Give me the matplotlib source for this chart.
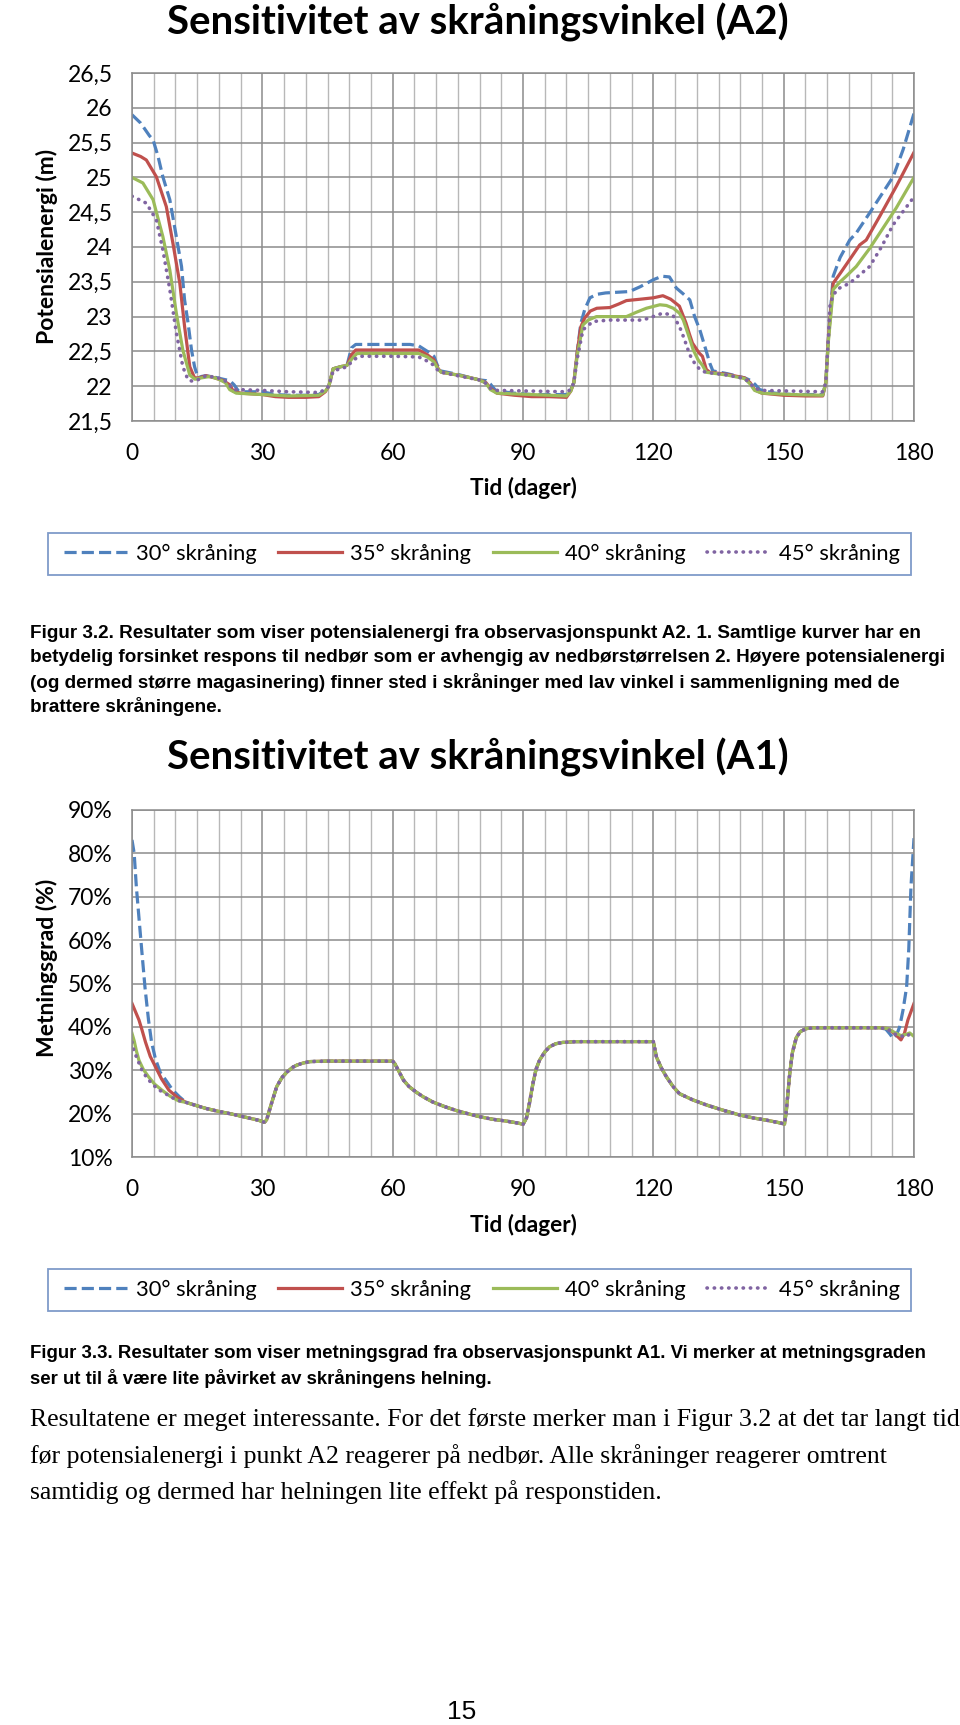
import numpy as np
import matplotlib
matplotlib.use('Agg')
import matplotlib.pyplot as plt
from matplotlib import font_manager
from matplotlib.patches import Rectangle

# A2: potensialenergi (m), dag -> verdi for hver skråningsvinkel
a2_dag_30 = [0, 2, 4, 4.85, 6, 7.1, 8.7, 10.2, 11.4, 12.1, 12.9, 13.7, 14.4, 15.2, 16, 17, 19, 21, 22.5, 23.5,
             24.5, 26, 30, 33, 36, 40, 43, 44.5, 45.3, 46.3, 48, 49.5, 50.5, 51.5, 60, 64, 66, 68, 69.5, 70.3,
             71, 75, 78, 80, 81.5, 82.5, 83.8, 88, 92, 96, 100, 101, 101.7, 102.5, 103.3, 104.2, 105.4, 107,
             109, 114.5, 117, 120, 122, 123.7, 125.3, 127, 128.4, 129.5, 130.7, 132.2, 133, 133.7, 137, 141,
             142.5, 143.5, 144.5, 148, 152, 156, 159, 159.7, 160.3, 161.4, 163, 165.2, 166.7, 169.8, 172.5,
             175.2, 177.5, 180]
a2_30 = [25.9, 25.78, 25.6, 25.54, 25.3, 25.01, 24.68, 24.15, 23.72, 23.24, 22.91, 22.52, 22.28, 22.12, 22.14,
         22.15, 22.13, 22.1, 22.08, 22.02, 21.93, 21.92, 21.92, 21.88, 21.87, 21.87, 21.88, 21.95, 22.0, 22.25,
         22.28, 22.3, 22.55, 22.6, 22.6, 22.6, 22.58, 22.5, 22.43, 22.3, 22.22, 22.17, 22.12, 22.09, 22.08,
         22.03, 21.93, 21.9, 21.88, 21.88, 21.88, 21.95, 22.05, 22.5, 22.9, 23.1, 23.27, 23.32, 23.34, 23.36,
         23.43, 23.53, 23.58, 23.57, 23.41, 23.32, 23.24, 23.0, 22.81, 22.5, 22.33, 22.22, 22.18, 22.12, 22.08,
         22.02, 21.95, 21.9, 21.88, 21.88, 21.88, 22.05, 22.7, 23.58, 23.85, 24.1, 24.2, 24.49, 24.75, 25.01,
         25.4, 25.92]

a2_dag_35 = [0, 2, 3.3, 5.6, 7.9, 9.4, 11, 12.1, 13.3, 14.4, 15.5, 17, 19, 21, 22.5, 23.3, 25, 30, 33, 36, 40,
             43, 44.5, 45.3, 46.3, 48, 49.5, 50.5, 51.5, 60, 66, 68, 69.5, 70.5, 71.2, 75, 78, 80, 81.5, 82.5,
             84, 88, 92, 96, 100, 101, 101.7, 102.5, 103.3, 104.2, 105.5, 107, 110, 112, 113.8, 117, 120, 122.2,
             124, 126, 127.5, 128.3, 129, 130.5, 131.3, 132.2, 133, 137, 141, 142.3, 143.3, 145, 150, 155, 159,
             159.7, 160.3, 161.4, 163, 165.2, 167.5, 169, 172.1, 176, 180]
a2_35 = [25.35, 25.3, 25.25, 25.01, 24.58, 24.06, 23.48, 22.86, 22.28, 22.12, 22.12, 22.15, 22.12, 22.08, 22.02,
         21.93, 21.9, 21.88, 21.85, 21.84, 21.84, 21.85, 21.92, 22.0, 22.25, 22.28, 22.3, 22.45, 22.52, 22.52,
         22.52, 22.45, 22.38, 22.25, 22.2, 22.16, 22.12, 22.09, 22.05, 21.97, 21.9, 21.87, 21.85, 21.85, 21.84,
         21.93, 22.05, 22.5, 22.85, 22.98, 23.08, 23.12, 23.13, 23.18, 23.23, 23.25, 23.27, 23.3, 23.25, 23.15,
         22.91, 22.75, 22.62, 22.48, 22.43, 22.24, 22.2, 22.17, 22.12, 22.05, 21.95, 21.9, 21.87, 21.86, 21.86,
         22.05, 22.7, 23.48, 23.62, 23.82, 24.03, 24.1, 24.44, 24.88, 25.36]

a2_dag_40 = [0, 2.5, 4.85, 7.1, 8.7, 10.2, 11.7, 13.3, 14.5, 16, 18, 20, 21.5, 22.5, 24, 30, 36, 43, 44.5, 45.3,
             46.3, 48, 49.5, 50.7, 51.8, 60, 66, 68, 69.5, 70.5, 71.2, 75, 78, 80, 81.5, 82.5, 84, 92, 100, 101,
             101.7, 102.5, 103.8, 105, 106.9, 110, 113.8, 116, 118.4, 121.5, 123, 124.6, 126, 126.9, 128, 129.2,
             130.3, 131.3, 132.2, 137, 141, 142.3, 143.3, 145, 152, 159, 159.7, 160.3, 161.4, 163, 164.4, 166.7,
             169.8, 175.9, 180]
a2_40 = [25.0, 24.92, 24.68, 24.15, 23.67, 23.05, 22.52, 22.16, 22.1, 22.12, 22.14, 22.1, 22.05, 21.95, 21.9,
         21.88, 21.86, 21.87, 21.93, 22.0, 22.25, 22.28, 22.3, 22.4, 22.47, 22.47, 22.47, 22.42, 22.35, 22.24,
         22.2, 22.16, 22.12, 22.09, 22.04, 21.95, 21.9, 21.88, 21.86, 21.93, 22.05, 22.45, 22.88, 22.95, 23.0,
         23.0, 23.0, 23.06, 23.12, 23.17, 23.16, 23.12, 23.05, 22.95, 22.75, 22.52, 22.38, 22.3, 22.2, 22.16,
         22.11, 22.03, 21.94, 21.9, 21.88, 21.87, 22.05, 22.65, 23.39, 23.5, 23.58, 23.72, 23.98, 24.56, 25.0]

a2_dag_45 = [0, 3.3, 5.6, 7.1, 8.7, 10.2, 11.7, 12.9, 14, 15.5, 17, 19, 21, 22.3, 23.3, 25, 30, 36, 43, 44.5,
             45.3, 46.3, 48, 49.5, 51, 52.5, 60, 66, 68, 69.5, 70.5, 71.2, 75, 80, 81.5, 82.5, 84, 92, 100, 101,
             101.7, 102.5, 103.8, 106.1, 110, 117.6, 119.9, 122.2, 124.5, 126, 127, 128.4, 129.5, 130.7, 132,
             137, 141, 142.3, 143.3, 145, 152, 159, 159.7, 160.3, 160.7, 162.2, 165.2, 169.8, 172.5, 175.2, 180]
a2_45 = [24.73, 24.63, 24.39, 23.96, 23.39, 22.77, 22.28, 22.09, 22.07, 22.1, 22.15, 22.13, 22.1, 22.03, 21.95,
         21.95, 21.94, 21.92, 21.91, 21.95, 22.0, 22.22, 22.25, 22.28, 22.38, 22.43, 22.43, 22.42, 22.36, 22.3,
         22.22, 22.2, 22.15, 22.09, 22.04, 21.97, 21.94, 21.93, 21.92, 21.95, 22.05, 22.4, 22.81, 22.93, 22.95,
         22.95, 23.0, 23.05, 23.02, 22.86, 22.7, 22.45, 22.33, 22.24, 22.2, 22.16, 22.11, 22.04, 21.97, 21.94,
         21.93, 21.92, 22.05, 22.7, 23.2, 23.39, 23.48, 23.72, 24.0, 24.32, 24.72]

# A1: metningsgrad (%), felles midtdel + egen start og slutt per vinkel
a1_dag_felles = [12.4, 15, 17, 20, 23, 26, 29, 30, 30.5, 31, 32, 33.3, 34.5, 35.7, 37, 38, 39.5, 41, 45, 60,
                 60.5, 61.5, 62.5, 63.8, 65.5, 67, 69.2, 72, 75, 78, 80, 83, 86, 89, 90, 90.8, 91.5, 92.3, 93,
                 93.8, 95, 96.1, 97.5, 99, 102, 120, 120.7, 121.8, 123, 124.5, 126, 129, 132.2, 136, 139.8, 143,
                 146, 149, 150.2, 150.6, 151.4, 152, 152.9, 153.8, 155.2, 157, 172]
a1_felles = [22.6, 21.8, 21.2, 20.5, 19.9, 19.2, 18.5, 18.2, 18.0, 18.6, 22.0, 26.2, 28.3, 29.6, 30.7, 31.2,
             31.7, 32.0, 32.1, 32.1, 31.5, 29.6, 27.7, 26.2, 24.9, 23.9, 22.7, 21.6, 20.6, 19.8, 19.3, 18.7,
             18.3, 17.8, 17.5, 19.0, 22.5, 27.0, 30.2, 32.3, 34.2, 35.4, 36.1, 36.4, 36.6, 36.6, 33.1, 30.6,
             28.5, 26.3, 24.6, 23.2, 22.0, 20.8, 19.7, 19.0, 18.5, 17.9, 17.6, 20.5, 29.3, 34.0, 37.5, 38.9,
             39.6, 39.8, 39.8]

a1_start_dag = {30: [0, 0.5, 1.0, 1.7, 2.3, 3.0, 3.8, 4.5, 5.4, 6.5, 7.8, 9.3, 10.9],
                35: [0, 0.8, 1.6, 2.3, 3.1, 4.2, 5.4, 6.8, 8.5, 10.5],
                40: [0, 0.5, 1.0, 1.6, 2.6, 3.8, 5.2, 6.9, 8.8, 10.8],
                45: [0, 0.3, 1.0, 2.3, 3.4, 4.6, 6.0, 7.7, 9.2, 10.8]}
a1_start = {30: [83.1, 80, 72.3, 64, 57, 49, 41.6, 36.5, 32.6, 29.5, 27.7, 25.5, 23.9],
            35: [45.4, 43.5, 41.6, 39.3, 36.5, 33.2, 30.8, 28.0, 25.4, 23.7],
            40: [38.5, 36.8, 34.5, 32.3, 30.2, 28.5, 26.8, 25.4, 24.0, 22.9],
            45: [36.5, 35.0, 33.1, 30.0, 28.3, 26.9, 25.6, 24.6, 23.7, 23.0]}
a1_slutt_dag = {30: [173.5, 174.5, 175.2, 176, 176.7, 177.5, 178.3, 178.8, 179.3, 180],
                35: [174, 175.5, 177, 177.8, 178.6, 180],
                40: [174, 175.9, 177, 178.3, 179, 180],
                45: [174, 175.2, 176.5, 178.3, 179.2, 180]}
a1_slutt = {30: [39.5, 38.3, 37.3, 38.2, 40.0, 44.0, 49.2, 58.0, 72.3, 83.5],
            35: [39.6, 38.5, 37.0, 38.5, 41.6, 45.4],
            40: [39.6, 38.5, 38.0, 38.3, 38.6, 37.8],
            45: [39.5, 38.5, 38.0, 37.7, 38.6, 38.4]}

vinkler = [30, 35, 40, 45]
navn = ['30° skråning', '35° skråning', '40° skråning', '45° skråning']
a2_ytekst = ['21,5', '22', '22,5', '23', '23,5', '24', '24,5', '25', '25,5', '26', '26,5']
a1_ytekst = ['10%', '20%', '30%', '40%', '50%', '60%', '70%', '80%', '90%']

farger = ['#4F81BD', '#C0504D', '#9BBB59', '#8064A2']
stiler = [(0, (3.8, 1.6)), '-', '-', (0, (0.1, 1.9))]

W, H = 960, 1725
plt.rcParams['font.family'] = ['Lato', 'DejaVu Sans']
fig = plt.figure(figsize=(W / 100, H / 100), dpi=100)


def fx(x):
    return x / W


def fy(y):
    return 1 - y / H


def aksestil(ax, y0, y1, ytekst):
    ax.set_xlim(0, 180)
    ax.set_ylim(y0, y1)
    ax.set_xticks(range(0, 181, 30))
    ax.set_xticks(range(0, 181, 5), minor=True)
    ax.set_yticks(np.linspace(y0, y1, len(ytekst)))
    ax.set_yticklabels(ytekst)
    ax.grid(which='minor', axis='x', color='#b8b8b8', lw=1.0)
    ax.grid(which='major', color='#8c8c8c', lw=1.1)
    ax.tick_params(which='both', length=0, labelsize=16.5, pad=14)
    ax.tick_params(axis='x', pad=16)
    for s in ax.spines.values():
        s.set_color('#8c8c8c')
        s.set_linewidth(1.1)
    ax.set_axisbelow(True)


def linje(ax, x, y, i):
    lw = 2.6 if i == 3 else 2.3
    return ax.plot(x, y, color=farger[i], ls=stiler[i], lw=lw, dash_capstyle='round' if i == 3 else 'butt',
                   label=navn[i])[0]


renderer = fig.canvas.get_renderer()


def tilpass(t, bredde):
    bb = t.get_window_extent(renderer)
    t.set_fontsize(t.get_fontsize() * bredde / bb.width)
    return t.get_fontsize()


# ---- figur 3.2 (A2)
ax1 = fig.add_axes([fx(132), fy(421), fx(782), 348 / H])
a2 = [(a2_dag_30, a2_30), (a2_dag_35, a2_35), (a2_dag_40, a2_40), (a2_dag_45, a2_45)]
linjer = [linje(ax1, d, v, i) for i, (d, v) in enumerate(a2)]
aksestil(ax1, 21.5, 26.5, a2_ytekst)

# ---- figur 3.3 (A1)
ax2 = fig.add_axes([fx(132), fy(1157), fx(782), 347 / H])
for i, v in enumerate(vinkler):
    d = a1_start_dag[v] + a1_dag_felles + a1_slutt_dag[v]
    y = a1_start[v] + a1_felles + a1_slutt[v]
    linje(ax2, d, y, i)
aksestil(ax2, 10, 90, a1_ytekst)

for ytop, ylab, ytid, yleg, tittel, ytxt in [(22, 246, 488, 554, 'Sensitivitet av skråningsvinkel (A2)', 'Potensialenergi (m)'),
                                          (757, 968, 1225, 1290, 'Sensitivitet av skråningsvinkel (A1)', 'Metningsgrad (%)')]:
    t = fig.text(fx(478), fy(ytop), tittel, ha='center', va='center', fontsize=23, weight='bold')
    tilpass(t, 622)
    fig.text(fx(47), fy(ylab), ytxt, rotation=90, ha='center', va='center', fontsize=16.5, weight='bold')
    fig.text(fx(523), fy(ytid), 'Tid (dager)', ha='center', va='center', fontsize=16.3, weight='bold')
    fig.legend(linjer, navn, loc='center', bbox_to_anchor=(fx(482), fy(yleg)), ncol=4, frameon=False,
               fontsize=15.8, handlelength=2.9, handletextpad=0.37, columnspacing=1.0)
    fig.add_artist(Rectangle((fx(48), fy(yleg + 21)), fx(863), 42 / H, transform=fig.transFigure,
                             fill=False, ec='#7f9bc9', lw=1.3))

navnene = {f.name for f in font_manager.fontManager.ttflist}
kfont = 'Liberation Sans Narrow' if 'Liberation Sans Narrow' in navnene else 'Liberation Sans'

tekst1 = ['Figur 3.2. Resultater som viser potensialenergi fra observasjonspunkt A2. 1. Samtlige kurver har en',
          'betydelig forsinket respons til nedbør som er avhengig av nedbørstørrelsen 2. Høyere potensialenergi',
          '(og dermed større magasinering) finner sted i skråninger med lav vinkel i sammenligning med de',
          'brattere skråningene.']
tekst2 = ['Figur 3.3. Resultater som viser metningsgrad fra observasjonspunkt A1. Vi merker at metningsgraden',
          'ser ut til å være lite påvirket av skråningens helning.']
brodtekst = ['Resultatene er meget interessante. For det første merker man i Figur 3.2 at det tar langt tid',
             'før potensialenergi i punkt A2 reagerer på nedbør. Alle skråninger reagerer omtrent',
             'samtidig og dermed har helningen lite effekt på responstiden.']

for linjer_, y0, dy, bredde, fam, vekt in [(tekst1, 633, 24.6, 887, kfont, 'bold'),
                                          (tekst2, 1354, 24.6, 897, kfont, 'bold'),
                                          (brodtekst, 1420, 36, 926, 'Liberation Serif', 'normal')]:
    t = fig.text(fx(30), fy(y0), linjer_[0], ha='left', va='center', fontsize=12, family=fam, weight=vekt)
    fs = tilpass(t, bredde)
    for k, s in enumerate(linjer_[1:], start=1):
        fig.text(fx(30), fy(y0 + k * dy), s, ha='left', va='center', fontsize=fs, family=fam, weight=vekt)

fig.text(fx(462), fy(1712), '15', ha='center', va='center', fontsize=19, family='Liberation Sans')

fig.savefig('out.png', dpi=100)
